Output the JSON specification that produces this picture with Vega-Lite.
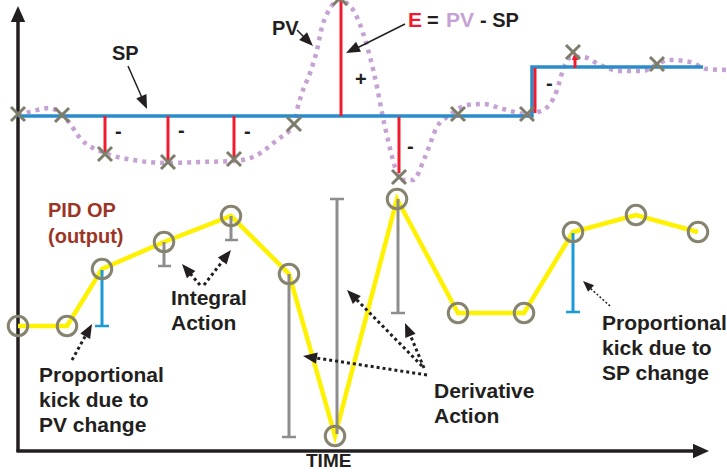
{
  "$schema": "https://vega.github.io/schema/vega-lite/v6.json",
  "width": 727,
  "height": 472,
  "padding": 0,
  "autosize": {"type": "none"},
  "background": "white",
  "config": {"view": {"stroke": null}},
  "datasets": {
    "axes": [
      {"x": 18, "y": 452, "x2": 18, "y2": 14},
      {"x": 16.5, "y": 451, "x2": 698, "y2": 451}
    ],
    "sp": [
      {"o": 1, "x": 18, "y": 116},
      {"o": 2, "x": 532, "y": 116},
      {"o": 3, "x": 532, "y": 67},
      {"o": 4, "x": 703, "y": 67}
    ],
    "pv": [
      {"x": 18, "y": 115}, {"x": 33, "y": 111}, {"x": 50, "y": 108}, {"x": 62, "y": 115},
      {"x": 68, "y": 121}, {"x": 80, "y": 138}, {"x": 105, "y": 153}, {"x": 133, "y": 160},
      {"x": 168, "y": 163}, {"x": 200, "y": 162}, {"x": 233, "y": 161}, {"x": 253, "y": 157},
      {"x": 277, "y": 140}, {"x": 294, "y": 124}, {"x": 297, "y": 110}, {"x": 302, "y": 93},
      {"x": 310, "y": 73}, {"x": 317, "y": 50}, {"x": 322, "y": 27}, {"x": 328, "y": 12},
      {"x": 335, "y": 2}, {"x": 340, "y": -1}, {"x": 345, "y": 2}, {"x": 355, "y": 13},
      {"x": 363, "y": 33}, {"x": 370, "y": 57}, {"x": 377, "y": 87}, {"x": 382, "y": 113},
      {"x": 388, "y": 140}, {"x": 395, "y": 167}, {"x": 402, "y": 180}, {"x": 413, "y": 180},
      {"x": 425, "y": 157}, {"x": 437, "y": 127}, {"x": 450, "y": 115}, {"x": 467, "y": 105},
      {"x": 483, "y": 104}, {"x": 503, "y": 109}, {"x": 526, "y": 114}, {"x": 543, "y": 110},
      {"x": 557, "y": 90}, {"x": 563, "y": 70}, {"x": 570, "y": 58}, {"x": 583, "y": 57},
      {"x": 600, "y": 65}, {"x": 620, "y": 71}, {"x": 643, "y": 71}, {"x": 657, "y": 64},
      {"x": 670, "y": 60}, {"x": 690, "y": 62}, {"x": 707, "y": 69}, {"x": 727, "y": 70}
    ],
    "err": [
      {"x": 105, "y": 116, "x2": 105, "y2": 154},
      {"x": 168, "y": 116, "x2": 168, "y2": 160},
      {"x": 234, "y": 116, "x2": 234, "y2": 157},
      {"x": 341, "y": 0, "x2": 341, "y2": 116},
      {"x": 399, "y": 117, "x2": 399, "y2": 173},
      {"x": 535, "y": 68, "x2": 535, "y2": 113},
      {"x": 575, "y": 68, "x2": 575, "y2": 58}
    ],
    "crosses": [
      {"x": 18, "y": 114}, {"x": 62, "y": 115}, {"x": 105, "y": 154}, {"x": 168, "y": 162},
      {"x": 234, "y": 159}, {"x": 294, "y": 124}, {"x": 340, "y": -2}, {"x": 399, "y": 177},
      {"x": 458, "y": 114}, {"x": 527, "y": 114}, {"x": 573, "y": 52}, {"x": 657, "y": 64}
    ],
    "op": [
      {"x": 18, "y": 326}, {"x": 67, "y": 326}, {"x": 102, "y": 269}, {"x": 164, "y": 242},
      {"x": 231, "y": 216}, {"x": 289, "y": 274}, {"x": 335, "y": 436}, {"x": 397, "y": 199},
      {"x": 458, "y": 313}, {"x": 524, "y": 313}, {"x": 573, "y": 232}, {"x": 636, "y": 215},
      {"x": 698, "y": 232}
    ],
    "graybars": [
      {"x": 164, "y": 242, "x2": 164, "y2": 266},
      {"x": 231, "y": 216, "x2": 231, "y2": 240},
      {"x": 289, "y": 274, "x2": 289, "y2": 437},
      {"x": 337, "y": 199, "x2": 337, "y2": 434},
      {"x": 398, "y": 199, "x2": 398, "y2": 313}
    ],
    "graycaps": [
      {"x": 158, "x2": 171, "y": 266},
      {"x": 225, "x2": 238, "y": 240},
      {"x": 282, "x2": 296, "y": 437},
      {"x": 330, "x2": 344, "y": 199},
      {"x": 391, "x2": 405, "y": 313}
    ],
    "bluebars": [
      {"x": 102, "y": 270, "x2": 102, "y2": 326},
      {"x": 573, "y": 233, "x2": 573, "y2": 312}
    ],
    "bluecaps": [
      {"x": 95, "x2": 109, "y": 326},
      {"x": 566, "x2": 580, "y": 312}
    ],
    "dotarrows": [
      {"x": 72, "y": 360, "x2": 87, "y2": 333},
      {"x": 200, "y": 285, "x2": 188.5, "y2": 271.6},
      {"x": 204, "y": 285, "x2": 225, "y2": 258},
      {"x": 427, "y": 375, "x2": 313, "y2": 357.5},
      {"x": 422, "y": 366, "x2": 354, "y2": 297},
      {"x": 424, "y": 368, "x2": 409, "y2": 332}
    ],
    "thindot": [
      {"x": 610, "y": 306, "x2": 590, "y2": 288}
    ],
    "solidarrows": [
      {"x": 128, "y": 66, "x2": 143, "y2": 100},
      {"x": 297, "y": 30, "x2": 306, "y2": 39},
      {"x": 405, "y": 24, "x2": 355, "y2": 49}
    ],
    "heads": [
      {"x": 92, "y": 324, "a": 29},
      {"x": 182, "y": 264, "a": -40.6},
      {"x": 231, "y": 250, "a": 38.7},
      {"x": 303, "y": 356, "a": -81.3},
      {"x": 347, "y": 290, "a": -44.6},
      {"x": 405, "y": 323, "a": -22.9},
      {"x": 147, "y": 109, "a": 156.2},
      {"x": 313, "y": 46, "a": 135},
      {"x": 346, "y": 53, "a": -116.2}
    ],
    "smallheads": [
      {"x": 583, "y": 281, "a": -47.2}
    ],
    "axisheads": [
      {"x": 18, "y": 6, "a": 0},
      {"x": 709, "y": 451, "a": 90}
    ],
    "redheads": [
      {"x": 575, "y": 52, "a": 0}
    ],
    "labels20": [
      {"t": "SP", "x": 112, "y": 60},
      {"t": "PV", "x": 272, "y": 35},
      {"t": "=", "x": 427, "y": 27},
      {"t": "- SP", "x": 480, "y": 27},
      {"t": "-", "x": 115, "y": 138},
      {"t": "-", "x": 178, "y": 137},
      {"t": "-", "x": 244, "y": 138},
      {"t": "-", "x": 407, "y": 153},
      {"t": "-", "x": 546, "y": 90},
      {"t": "+", "x": 355, "y": 86}
    ],
    "timelabel": [
      {"t": "TIME", "x": 306, "y": 467}
    ],
    "labels21": [
      {"t": "Integral", "x": 171, "y": 305},
      {"t": "Action", "x": 171, "y": 330},
      {"t": "Proportional", "x": 39, "y": 382},
      {"t": "kick due to", "x": 39, "y": 407},
      {"t": "PV change", "x": 39, "y": 432},
      {"t": "Derivative", "x": 434, "y": 398},
      {"t": "Action", "x": 434, "y": 423},
      {"t": "Proportional", "x": 602, "y": 330},
      {"t": "kick due to", "x": 602, "y": 355},
      {"t": "SP change", "x": 602, "y": 380}
    ],
    "pidlabels": [
      {"t": "PID OP", "x": 48, "y": 217},
      {"t": "(output)", "x": 48, "y": 243}
    ],
    "elabel": [{"t": "E", "x": 408, "y": 27}],
    "pvlabel": [{"t": "PV", "x": 446, "y": 27}]
  },
  "encoding": {
    "x": {"field": "x", "type": "quantitative", "axis": null, "scale": {"domain": [0, 727], "nice": false, "zero": false}},
    "y": {"field": "y", "type": "quantitative", "axis": null, "scale": {"domain": [0, 472], "reverse": true, "nice": false, "zero": false}}
  },
  "layer": [
    {"data": {"name": "axes"}, "mark": {"type": "rule", "color": "#231f20", "strokeWidth": 3.5},
     "encoding": {"x2": {"field": "x2"}, "y2": {"field": "y2"}}},
    {"data": {"name": "pv"}, "mark": {"type": "line", "interpolate": "monotone", "color": "#c6a2d4", "strokeWidth": 4.5, "strokeDash": [4, 5]},
     "encoding": {}},
    {"data": {"name": "sp"}, "mark": {"type": "line", "color": "#2b8ccc", "strokeWidth": 3.5},
     "encoding": {"order": {"field": "o", "type": "quantitative"}}},
    {"data": {"name": "err"}, "mark": {"type": "rule", "color": "#ee1c2e", "strokeWidth": 3},
     "encoding": {"x2": {"field": "x2"}, "y2": {"field": "y2"}}},
    {"data": {"name": "redheads"}, "mark": {"type": "point", "shape": "M0,0L-0.8,2L0.8,2Z", "filled": true, "color": "#ee1c2e", "opacity": 1, "size": 64},
     "encoding": {"angle": {"field": "a", "type": "quantitative", "scale": null}}},
    {"data": {"name": "crosses"}, "mark": {"type": "point", "shape": "M-1,-1L1,1M1,-1L-1,1", "filled": false, "color": "#7e7d6b", "strokeWidth": 3, "opacity": 1, "size": 196},
     "encoding": {}},
    {"data": {"name": "op"}, "mark": {"type": "line", "color": "#fff200", "strokeWidth": 4.5},
     "encoding": {}},
    {"data": {"name": "graybars"}, "mark": {"type": "rule", "color": "#8d8d8d", "strokeWidth": 3},
     "encoding": {"x2": {"field": "x2"}, "y2": {"field": "y2"}}},
    {"data": {"name": "graycaps"}, "mark": {"type": "rule", "color": "#8d8d8d", "strokeWidth": 2.5},
     "encoding": {"x2": {"field": "x2"}}},
    {"data": {"name": "bluebars"}, "mark": {"type": "rule", "color": "#1a9ad6", "strokeWidth": 3},
     "encoding": {"x2": {"field": "x2"}, "y2": {"field": "y2"}}},
    {"data": {"name": "bluecaps"}, "mark": {"type": "rule", "color": "#1a9ad6", "strokeWidth": 2.5},
     "encoding": {"x2": {"field": "x2"}}},
    {"data": {"name": "op"}, "mark": {"type": "point", "shape": "circle", "filled": false, "color": "#86846f", "strokeWidth": 3, "opacity": 1, "size": 380},
     "encoding": {}},
    {"data": {"name": "dotarrows"}, "mark": {"type": "rule", "color": "#231f20", "strokeWidth": 3, "strokeDash": [3, 3]},
     "encoding": {"x2": {"field": "x2"}, "y2": {"field": "y2"}}},
    {"data": {"name": "thindot"}, "mark": {"type": "rule", "color": "#231f20", "strokeWidth": 1.5, "strokeDash": [2, 2]},
     "encoding": {"x2": {"field": "x2"}, "y2": {"field": "y2"}}},
    {"data": {"name": "solidarrows"}, "mark": {"type": "rule", "color": "#231f20", "strokeWidth": 1.5},
     "encoding": {"x2": {"field": "x2"}, "y2": {"field": "y2"}}},
    {"data": {"name": "heads"}, "mark": {"type": "point", "shape": "M0,0L-0.8,2L0.8,2Z", "filled": true, "color": "#231f20", "opacity": 1, "size": 196},
     "encoding": {"angle": {"field": "a", "type": "quantitative", "scale": null}}},
    {"data": {"name": "smallheads"}, "mark": {"type": "point", "shape": "M0,0L-0.8,2L0.8,2Z", "filled": true, "color": "#231f20", "opacity": 1, "size": 121},
     "encoding": {"angle": {"field": "a", "type": "quantitative", "scale": null}}},
    {"data": {"name": "axisheads"}, "mark": {"type": "point", "shape": "M0,0L-0.9,2L0.9,2Z", "filled": true, "color": "#231f20", "opacity": 1, "size": 256},
     "encoding": {"angle": {"field": "a", "type": "quantitative", "scale": null}}},
    {"data": {"name": "labels20"}, "mark": {"type": "text", "font": "Liberation Sans", "fontWeight": "bold", "fontSize": 20, "align": "left", "baseline": "alphabetic", "color": "#231f20"},
     "encoding": {"text": {"field": "t"}}},
    {"data": {"name": "timelabel"}, "mark": {"type": "text", "font": "Liberation Sans", "fontWeight": "bold", "fontSize": 19, "align": "left", "baseline": "alphabetic", "color": "#231f20"},
     "encoding": {"text": {"field": "t"}}},
    {"data": {"name": "labels21"}, "mark": {"type": "text", "font": "Liberation Sans", "fontWeight": "bold", "fontSize": 21, "align": "left", "baseline": "alphabetic", "color": "#231f20"},
     "encoding": {"text": {"field": "t"}}},
    {"data": {"name": "pidlabels"}, "mark": {"type": "text", "font": "Liberation Sans", "fontWeight": "bold", "fontSize": 20, "align": "left", "baseline": "alphabetic", "color": "#9c3526"},
     "encoding": {"text": {"field": "t"}}},
    {"data": {"name": "elabel"}, "mark": {"type": "text", "font": "Liberation Sans", "fontWeight": "bold", "fontSize": 21, "align": "left", "baseline": "alphabetic", "color": "#ee1c2e"},
     "encoding": {"text": {"field": "t"}}},
    {"data": {"name": "pvlabel"}, "mark": {"type": "text", "font": "Liberation Sans", "fontWeight": "bold", "fontSize": 21, "align": "left", "baseline": "alphabetic", "color": "#c6a2d4"},
     "encoding": {"text": {"field": "t"}}}
  ]
}
